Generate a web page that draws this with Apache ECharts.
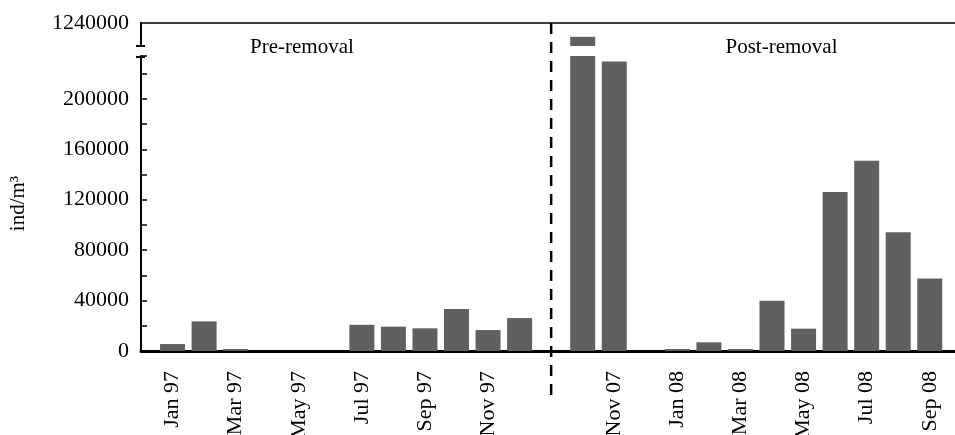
<!DOCTYPE html>
<html>
<head>
<meta charset="utf-8">
<script src="https://cdn.jsdelivr.net/npm/echarts@6/dist/echarts.min.js"></script>
<style>
html,body{margin:0;padding:0;background:#fff;}
#chart{width:955px;height:435px;}
</style>
</head>
<body>
<div id="chart"></div>
<script>
// Months (index 12 is the blank separator slot)
var months = ['Jan 97','Feb 97','Mar 97','Apr 97','May 97','Jun 97','Jul 97','Aug 97','Sep 97','Oct 97','Nov 97','Dec 97',
  '',
  'Oct 07','Nov 07','Dec 07','Jan 08','Feb 08','Mar 08','Apr 08','May 08','Jun 08','Jul 08','Aug 08','Sep 08'];
// Tick labels shown on the x axis
var tickLabels = ['Jan 97','Mar 97','May 97','Jul 97','Sep 97','Nov 97','Nov 07','Jan 08','Mar 08','May 08','Jul 08','Sep 08'];
// Abundance, ind/m3
var preRemoval = [5500, 23500, 1600, 0, 0, 0, 20800, 19300, 18000, 33300, 16600, 26100];
var postRemoval = [1228000, 229700, 0, 1600, 6900, 1600, 39800, 17700, 126200, 151000, 94200, 57600];
// y tick labels
var yLabelsLower = [0, 40000, 80000, 120000, 160000, 200000];
var yLabelsUpper = [1240000];
var separatorIndex = 12;

var FONT = 'Liberation Serif';
var values = preRemoval.concat([null]).concat(postRemoval);
var data = values.map(function(v, i){ return [i, v]; });

var chart = echarts.init(document.getElementById('chart'), null, {renderer:'canvas'});
var xCommon = {
  type:'value', min:-1, max:24.8, interval:1,
  splitLine:{show:false}, axisTick:{show:false}
};
var option = {
  animation:false,
  backgroundColor:'#fff',
  textStyle:{fontFamily:FONT},
  grid:[
    {left:141, right:0, top:56, bottom:84, containLabel:false, outerBoundsMode:'none'},
    {left:141, right:0, top:23, height:23, containLabel:false, outerBoundsMode:'none'}
  ],
  xAxis:[
    Object.assign({}, xCommon, {
      gridIndex:0, position:'bottom',
      axisLine:{show:true, onZero:false, lineStyle:{color:'#000', width:3}},
      axisLabel:{
        rotate:90, margin:20, color:'#000', fontFamily:FONT, fontSize:22,
        formatter:function(v){
          if (Math.abs(v - Math.round(v)) > 1e-6) return '';
          var n = months[Math.round(v)];
          return (n && tickLabels.indexOf(n) >= 0) ? n : '';
        }
      }
    }),
    Object.assign({}, xCommon, {
      gridIndex:1, position:'top',
      axisLine:{show:true, onZero:false, lineStyle:{color:'#000', width:1.5}},
      axisLabel:{show:false}
    })
  ],
  yAxis:[
    {
      type:'value', gridIndex:0, min:0, max:234000, interval:20000, position:'left',
      name:'ind/m³', nameLocation:'middle', nameRotate:90, nameGap:112,
      nameTextStyle:{fontFamily:FONT, fontSize:21, color:'#000'},
      splitLine:{show:false},
      axisLine:{show:true, onZero:false, lineStyle:{color:'#000', width:2}},
      axisTick:{show:true, inside:true, length:6, lineStyle:{color:'#000', width:1.5}},
      axisLabel:{
        color:'#000', fontFamily:FONT, fontSize:22, margin:12,
        formatter:function(v){ return yLabelsLower.indexOf(v) >= 0 ? String(v) : ''; }
      }
    },
    {
      type:'value', gridIndex:1, min:1220000, max:1240000, interval:20000, position:'left',
      splitLine:{show:false},
      axisLine:{show:true, onZero:false, lineStyle:{color:'#000', width:2}},
      axisTick:{show:false},
      axisLabel:{
        color:'#000', fontFamily:FONT, fontSize:22, margin:12,
        formatter:function(v){ return yLabelsUpper.indexOf(v) >= 0 ? String(v) : ''; }
      }
    }
  ],
  series:[
    {
      type:'bar', xAxisIndex:0, yAxisIndex:0, data:data, barWidth:25,
      itemStyle:{color:'#606060'}, clip:true
    },
    {
      type:'bar', xAxisIndex:1, yAxisIndex:1, data:data, barWidth:25,
      itemStyle:{color:'#606060'}, clip:true
    }
  ]
};
chart.setOption(option);

var sepX = chart.convertToPixel({xAxisIndex:0}, separatorIndex);
var preX = chart.convertToPixel({xAxisIndex:0}, 4.1);
var postX = chart.convertToPixel({xAxisIndex:0}, 19.3);
chart.setOption({
  graphic:[
    {type:'line', z:100, shape:{x1:sepX, y1:23, x2:sepX, y2:395},
      style:{stroke:'#000', lineWidth:2.5, lineDash:[11,8]}},
    {type:'line', z:100, shape:{x1:136, y1:46, x2:145, y2:46}, style:{stroke:'#000', lineWidth:2}},
    {type:'line', z:100, shape:{x1:136, y1:57, x2:145, y2:57}, style:{stroke:'#000', lineWidth:2}},
    {type:'text', z:100, x:preX, y:47, style:{text:'Pre-removal', fill:'#000', font:'21px "Liberation Serif"', textAlign:'center', textVerticalAlign:'middle'}},
    {type:'text', z:100, x:postX, y:47, style:{text:'Post-removal', fill:'#000', font:'21px "Liberation Serif"', textAlign:'center', textVerticalAlign:'middle'}}
  ]
});
</script>
</body>
</html>
